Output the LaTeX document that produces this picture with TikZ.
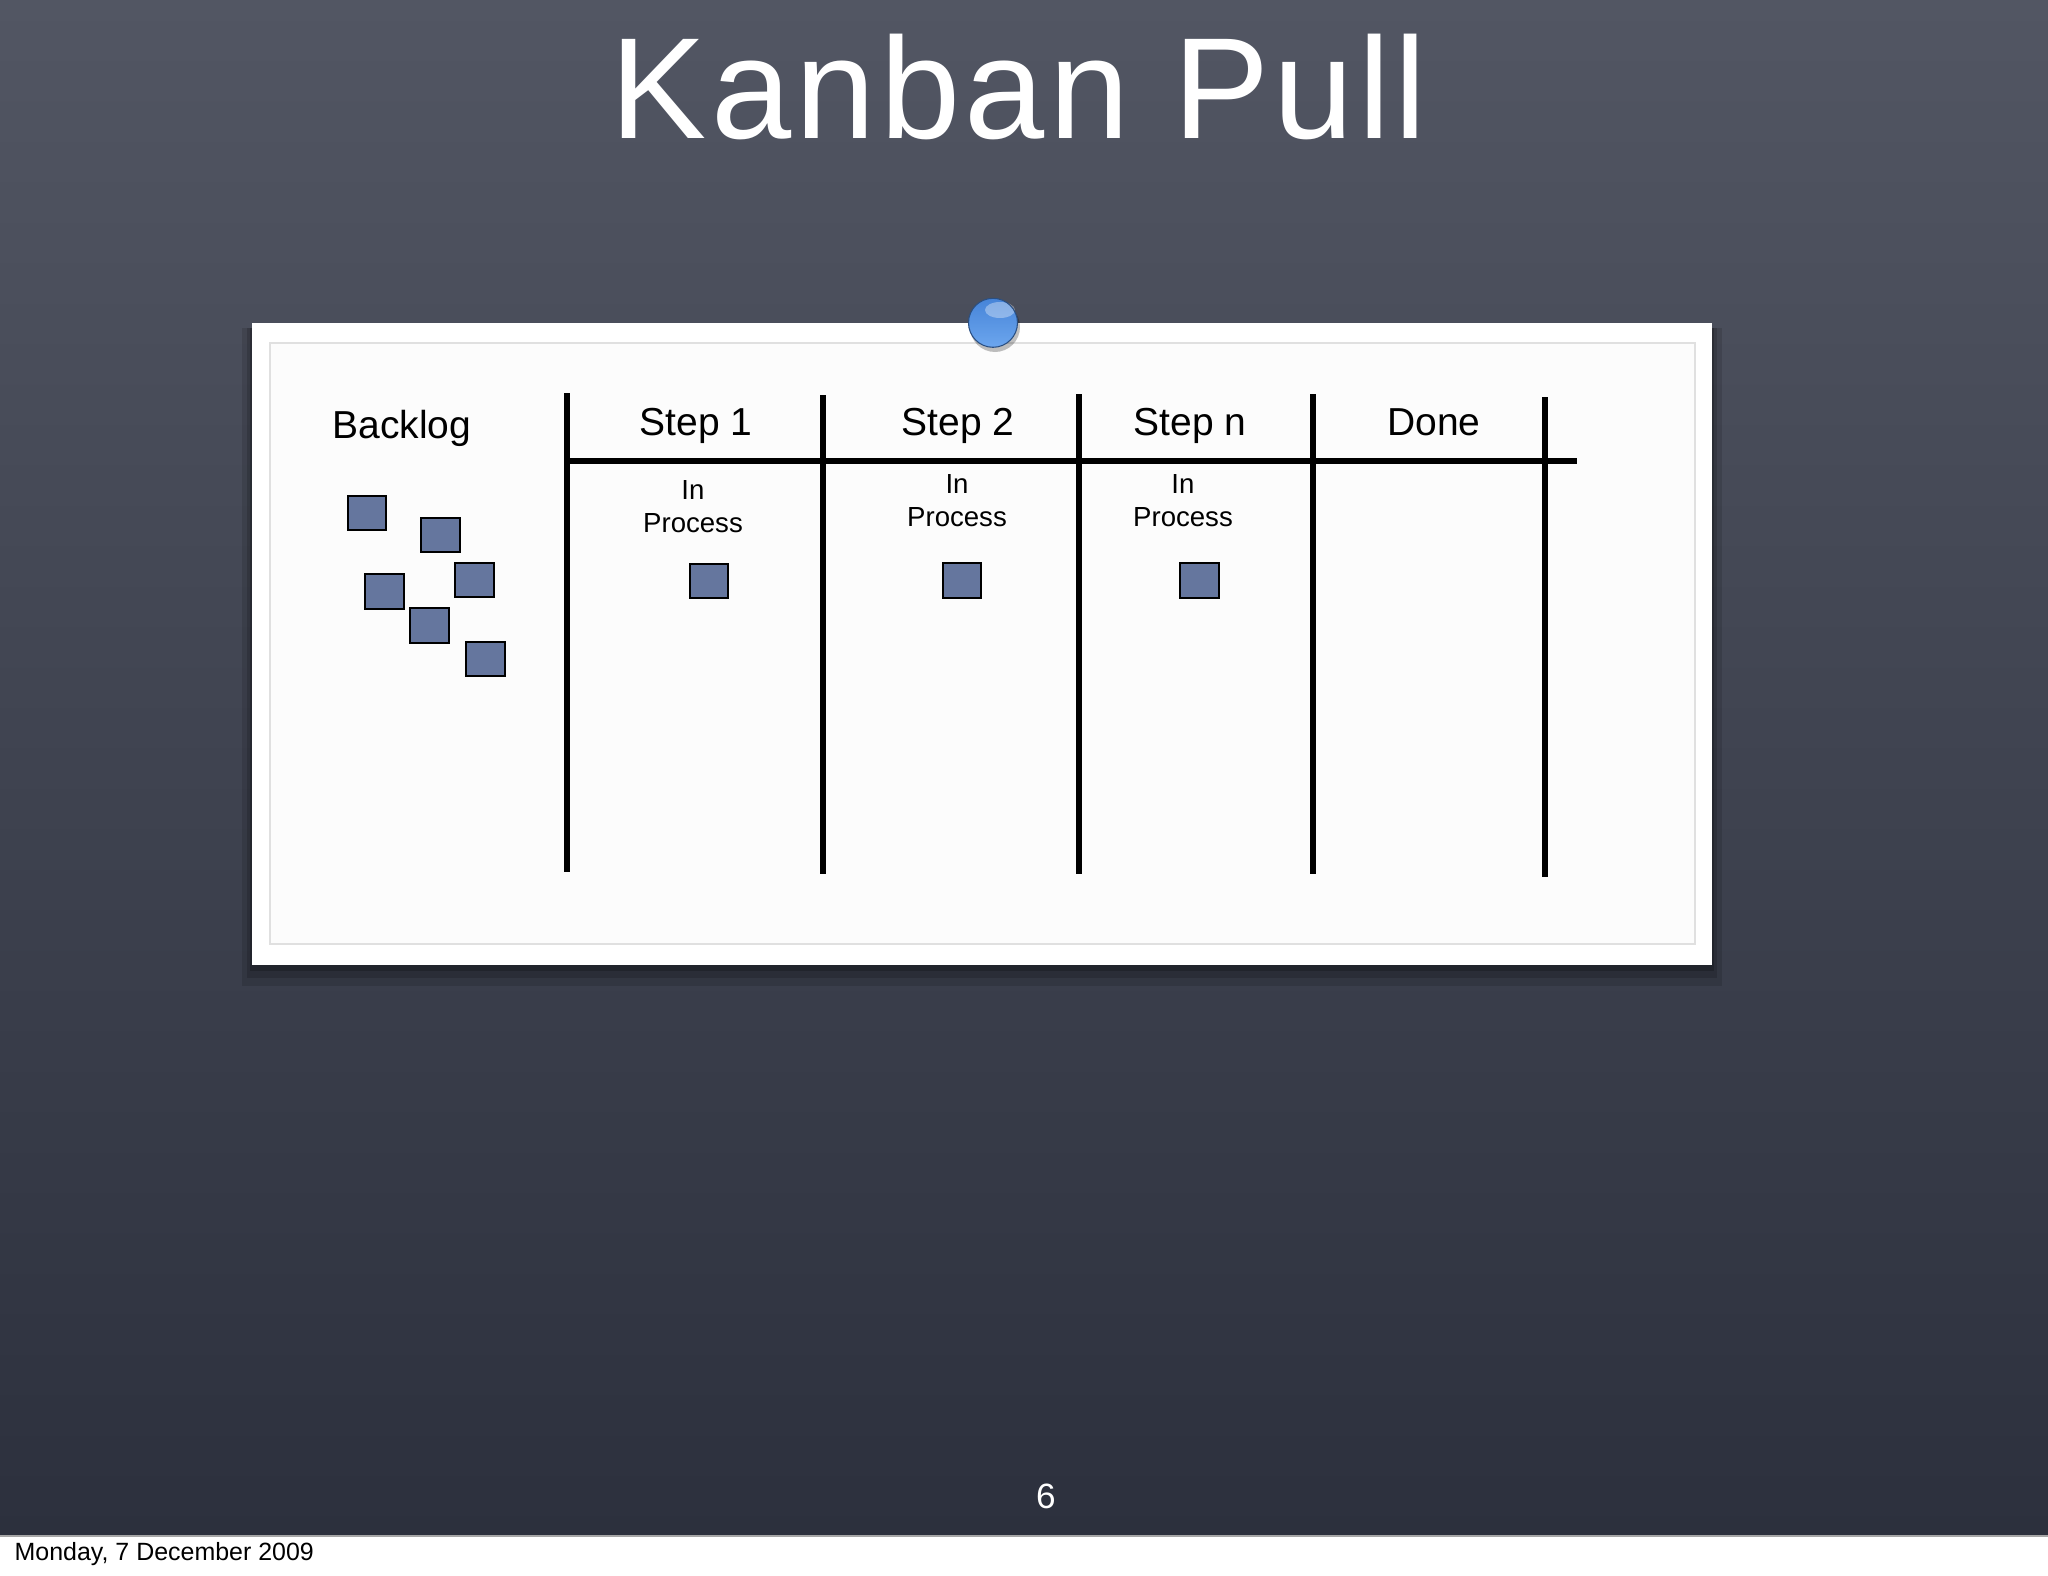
\documentclass[tikz,border=0pt]{standalone}
\usepackage{fontspec}
\setmainfont{Liberation Sans}
\newfontfamily\titlefont[LetterSpace=3]{Liberation Sans}
\usepackage{tikz}

\definecolor{chalktop}{RGB}{82,86,99}
\definecolor{chalkmid}{RGB}{70,74,87}
\definecolor{chalkbottom}{RGB}{44,48,61}
\definecolor{cardblue}{RGB}{101,118,158}
\definecolor{pintop}{RGB}{70,132,216}
\definecolor{pinbottom}{RGB}{108,166,238}

\begin{document}
\begin{tikzpicture}[
        lane/.style={line width=1.9pt},
        card/.style={draw=black, line width=0.57pt, fill=cardblue, minimum width=3.85mm, minimum height=3.45mm, inner sep=0pt},
        head/.style={font=\fontsize{11.1}{13}\selectfont, anchor=base, inner sep=0pt},
        proc/.style={font=\fontsize{7.85}{9.4}\selectfont, align=center, anchor=north, inner sep=0pt}
    ]
        \useasboundingbox (0,0) rectangle (20.48,-15.76);
        \shade [top color=chalktop, middle color=chalkmid, bottom color=chalkbottom] (0,0) rectangle (20.48,-15.36);
        \fill [white] (0,-15.36) rectangle (20.48,-15.76);
        \draw [gray!70, line width=0.6pt] (0,-15.36) -- (20.48,-15.36);

        \node [font=\titlefont\fontsize{41}{45}\selectfont, text=white, anchor=base, inner sep=0pt] (title) at (10.19,-1.38) {Kanban Pull};

        \fill [black, opacity=0.12] (2.42,-3.28) rectangle (17.22,-9.86);
        \fill [black, opacity=0.15] (2.47,-3.28) rectangle (17.17,-9.78);
        \fill [black, opacity=0.2] (2.50,-3.28) rectangle (17.14,-9.71);
        \fill [white] (2.52,-3.23) rectangle (17.12,-9.65);
        \draw [black!12, fill=white!98!gray, line width=0.5pt] (2.70,-3.43) rectangle (16.95,-9.44);

        \fill [black, opacity=0.25] (9.95,-3.27) circle (0.25);
        \shade [top color=pintop, bottom color=pinbottom] (9.93,-3.228) circle (0.245);
        \fill [white, opacity=0.35] (10.00,-3.10) ellipse (0.15 and 0.08);
        \draw [pintop!60!black, line width=0.3pt] (9.93,-3.228) circle (0.245);

        \draw [lane] (5.67,-3.93) -- (5.67,-8.72);
        \draw [lane] (8.23,-3.95) -- (8.23,-8.74);
        \draw [lane] (10.79,-3.94) -- (10.79,-8.74);
        \draw [lane] (13.13,-3.94) -- (13.13,-8.74);
        \draw [lane] (15.45,-3.97) -- (15.45,-8.77);
        \draw [lane] (5.67,-4.61) -- (15.77,-4.61);

        \node [head] (backlog) at (4.02,-4.38) {Backlog};
        \node [head] (step1) at (6.96,-4.35) {Step 1};
        \node [head] (step2) at (9.58,-4.35) {Step 2};
        \node [head] (stepn) at (11.90,-4.35) {Step n};
        \node [head] (done) at (14.34,-4.35) {Done};

        \node [proc] (proc1) at (6.93,-4.80) {In\\Process};
        \node [proc] (proc2) at (9.57,-4.735) {In\\Process};
        \node [proc] (procn) at (11.83,-4.735) {In\\Process};

        \node [card] (b1) at (3.67,-5.13) {};
        \node [card] (b2) at (4.407,-5.35) {};
        \node [card] (b3) at (4.743,-5.80) {};
        \node [card] (b4) at (3.843,-5.917) {};
        \node [card] (b5) at (4.293,-6.253) {};
        \node [card] (b6) at (4.855,-6.59) {};
        \node [card] (c1) at (7.09,-5.81) {};
        \node [card] (c2) at (9.62,-5.805) {};
        \node [card] (cn) at (11.995,-5.805) {};

        \node [font=\fontsize{10}{12}\selectfont, text=white, inner sep=0pt] (pagenum) at (10.46,-14.96) {6};
        \node [font=\fontsize{7.1}{8}\selectfont, anchor=base west, inner sep=0pt] (date) at (0.14,-15.60) {Monday, 7 December 2009};
    \end{tikzpicture}
\end{document}
